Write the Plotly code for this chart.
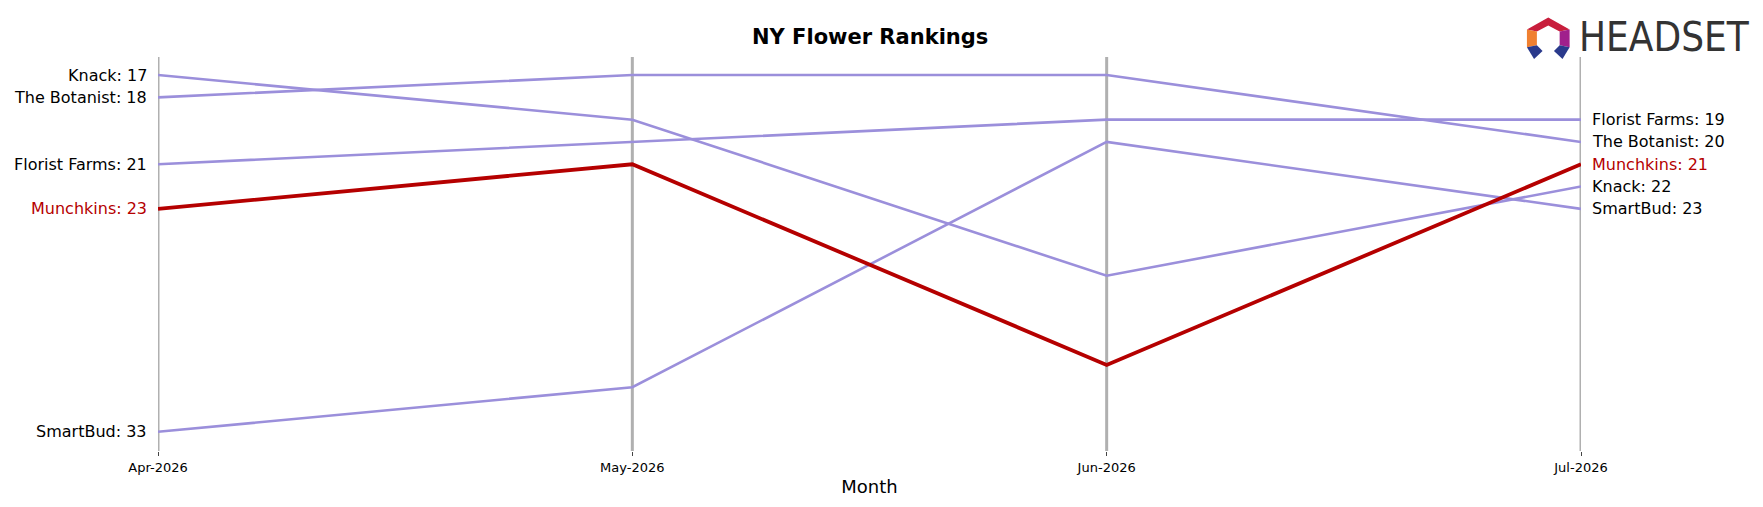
import plotly.graph_objects as go

months = ["Apr-2026", "May-2026", "Jun-2026", "Jul-2026"]
brands = ["Knack", "The Botanist", "Florist Farms", "Munchkins", "SmartBud"]
knack = [17, 19, 26, 22]
botanist = [18, 17, 17, 20]
florist = [21, 20, 19, 19]
munchkins = [23, 21, 30, 21]
smartbud = [33, 31, 20, 23]
series = [knack, botanist, florist, munchkins, smartbud]
highlight = "Munchkins"

fig = go.Figure()
for m in months:
    fig.add_trace(go.Scatter(x=[m, m], y=[16.19, 33.86], mode="lines", cliponaxis=False,
                             line=dict(color="#b0b0b0", width=3), hoverinfo="skip", showlegend=False))
for name, vals in zip(brands, series):
    if name != highlight:
        fig.add_trace(go.Scatter(x=months, y=vals, mode="lines", name=name, cliponaxis=False,
                                 line=dict(color="#9b8fdb", width=2.6), showlegend=False))
for name, vals in zip(brands, series):
    if name == highlight:
        fig.add_trace(go.Scatter(x=months, y=vals, mode="lines", name=name, cliponaxis=False,
                                 line=dict(color="#b50000", width=3.8), showlegend=False))

for name, vals in zip(brands, series):
    col = "#b50000" if name == highlight else "black"
    fig.add_annotation(x=months[0], y=vals[0], text=f"{name}: {vals[0]}", xanchor="right",
                       xshift=-9, showarrow=False, font=dict(size=16, color=col))
    fig.add_annotation(x=months[-1], y=vals[-1], text=f"{name}: {vals[-1]}", xanchor="left",
                       xshift=9, showarrow=False, font=dict(size=16, color=col))

fig.add_annotation(x=0.5, y=1.052, xref="paper", yref="paper", text="<b>NY Flower Rankings</b>",
                   showarrow=False, font=dict(size=21, color="black"), yanchor="middle")
fig.add_annotation(x=1.12, y=1.05, xref="paper", yref="paper", text="HEADSET", showarrow=False,
                   xanchor="right", yanchor="middle",
                   font=dict(size=40, color="#333333", family="DejaVu Sans Condensed"))
# logo icon
def P(pts, color):
    path = "M " + " L ".join(f"{x} {y}" for x, y in pts) + " Z"
    fig.add_shape(type="path", xref="paper", yref="paper", path=path, fillcolor=color, line=dict(width=0))
P([(0.962, 1.07), (0.977, 1.10), (0.992, 1.07), (0.985, 1.065), (0.977, 1.08), (0.969, 1.065)], "#c81e3c")
P([(0.962, 1.07), (0.969, 1.065), (0.969, 1.03), (0.962, 1.025)], "#f08030")
P([(0.992, 1.07), (0.985, 1.065), (0.985, 1.03), (0.992, 1.025)], "#a0208c")
P([(0.962, 1.025), (0.969, 1.03), (0.973, 1.015), (0.967, 0.995)], "#2a3a8c")
P([(0.992, 1.025), (0.985, 1.03), (0.981, 1.015), (0.987, 0.995)], "#2a3a8c")

fig.update_layout(
    width=1763, height=507, margin=dict(l=150, r=190, t=49, b=64),
    plot_bgcolor="white", paper_bgcolor="white",
    font=dict(family="DejaVu Sans", color="black"),
    xaxis=dict(showgrid=False, zeroline=False, showline=False, ticks="outside", ticklen=4,
               tickfont=dict(size=13), title=dict(text="Month", font=dict(size=18), standoff=6),
               range=[0, 3], type="category"),
    yaxis=dict(range=[33.86, 16.19], visible=False),
)
fig.write_html("out.html")
